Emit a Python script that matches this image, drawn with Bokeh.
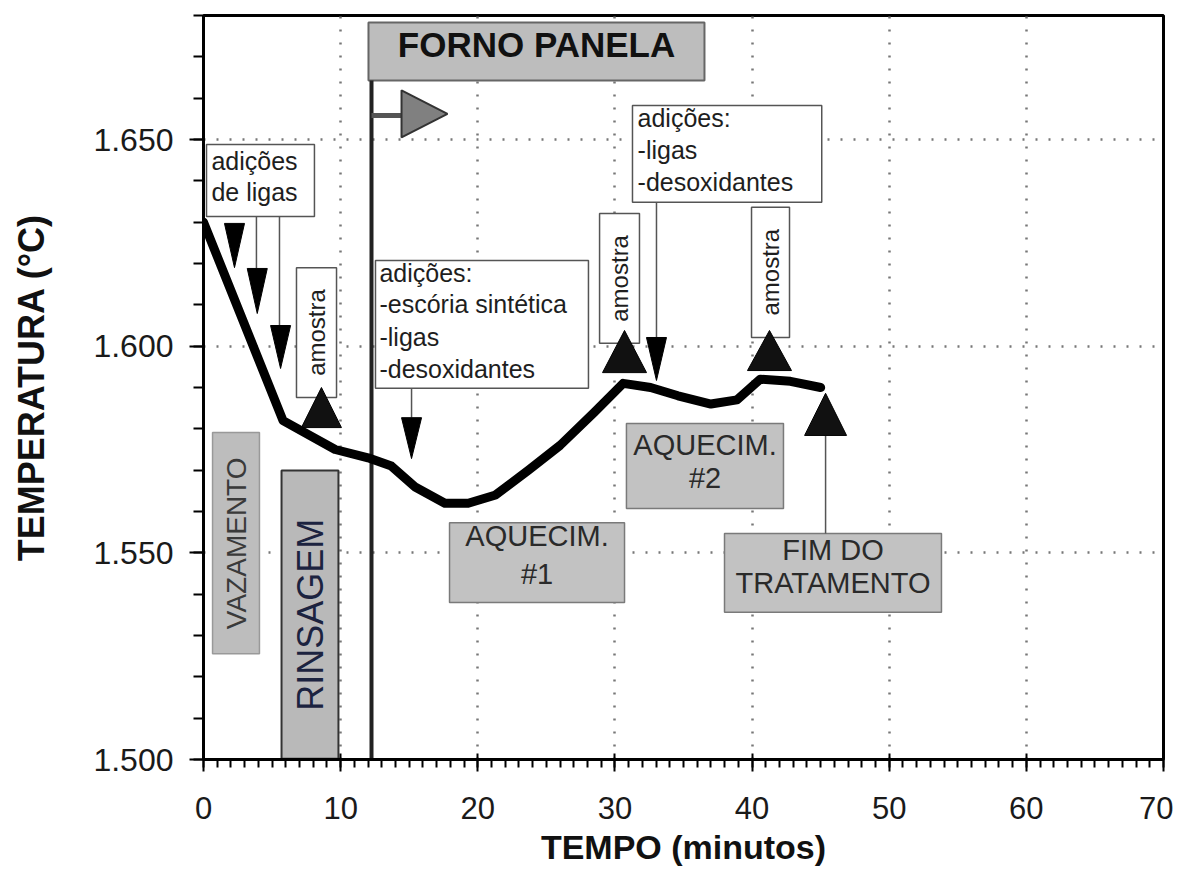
import math
from bokeh.plotting import figure
from bokeh.models import SingleIntervalTicker, CustomJSTickFormatter, Range1d
from bokeh.embed import file_html
from bokeh.resources import INLINE
from bokeh.core.properties import value

# ---------------- data ----------------
tempo_min = [0, 5.8, 9.6, 12.0, 13.7, 15.4, 17.6, 19.3, 21.3, 23.7, 26.0, 28.5,
             30.6, 32.6, 34.6, 37.0, 38.9, 40.6, 42.8, 45.0]
temperatura_c = [1630, 1582, 1575, 1573, 1571, 1566, 1562, 1562, 1564, 1570, 1576, 1584,
                 1591, 1590, 1588, 1586, 1587, 1592, 1591.5, 1590]
x_ticks = [0, 10, 20, 30, 40, 50, 60, 70]
y_ticks = [1500, 1550, 1600, 1650]

FONT = "Liberation Sans"

p = figure(frame_width=960, frame_height=744, output_backend="svg", toolbar_location=None,
           x_range=Range1d(0, 70), y_range=Range1d(1500, 1680),
           min_border_left=203, min_border_top=15, min_border_right=10, min_border_bottom=90,
           background_fill_color="white", border_fill_color="white")

p.outline_line_color = "black"
p.outline_line_width = 3

# axes
p.xaxis.ticker = SingleIntervalTicker(interval=10, num_minor_ticks=10)
p.yaxis.ticker = SingleIntervalTicker(interval=50, num_minor_ticks=5)
p.yaxis.formatter = CustomJSTickFormatter(code="return (tick/1000).toFixed(3);")
for ax in (p.xaxis[0], p.yaxis[0]):
    ax.axis_line_width = 3
    ax.axis_line_color = "black"
    ax.major_tick_line_width = 2
    ax.minor_tick_line_width = 2
    ax.major_tick_line_color = "black"
    ax.minor_tick_line_color = "black"
    ax.major_label_text_font = FONT
    ax.major_label_text_color = "#1a1a1a"
    ax.axis_label_text_font = FONT
    ax.axis_label_text_font_style = "bold"
    ax.axis_label_text_color = "#111111"

p.xaxis.major_tick_in = 6
p.xaxis.major_tick_out = 12
p.xaxis.minor_tick_in = 0
p.xaxis.minor_tick_out = 8
p.xaxis.major_label_text_font_size = "31px"
p.xaxis.major_label_standoff = 25
p.xaxis.axis_label = "TEMPO (minutos)"
p.xaxis.axis_label_text_font_size = "34px"
p.xaxis.axis_label_standoff = 6

p.yaxis.major_tick_in = 0
p.yaxis.major_tick_out = 14
p.yaxis.minor_tick_in = 0
p.yaxis.minor_tick_out = 10
p.yaxis.major_label_text_font_size = "32px"
p.yaxis.major_label_standoff = 16
p.yaxis.axis_label = "TEMPERATURA (°C)"
p.yaxis.axis_label_text_font_size = "36px"
p.yaxis.axis_label_standoff = 38

# grid
for g in (p.xgrid[0], p.ygrid[0]):
    g.grid_line_color = "#777777"
    g.grid_line_dash = "2 11"
    g.grid_line_width = 2.5

# ---------------- annotation helpers ----------------
def box(l, r, b, t, fill, line, lw=1.5):
    p.quad(left=[l], right=[r], bottom=[b], top=[t], fill_color=fill,
           line_color=line, line_width=lw)

def txt(x, y, s, size, align="left", angle=0.0, style="normal", color="#1e1e1e"):
    p.text(x=[x], y=[y], text=[s], angle=angle, text_align=align, text_baseline="middle",
           text_font=value(FONT), text_font_size=size, text_font_style=style,
           text_color=color)

def tri_down(cx, top, bottom, w):
    p.patch([cx - w / 2, cx + w / 2, cx], [top, top, bottom], fill_color="black",
            line_color="black", line_width=1)

def tri_up(cx, apex, base, w):
    p.patch([cx - w / 2, cx + w / 2, cx], [base, base, apex], fill_color="#111111",
            line_color="black", line_width=1)

def vline(x, y0, y1, color="#555555", w=1.5):
    p.segment(x0=[x], y0=[y0], x1=[x], y1=[y1], line_color=color, line_width=w)

GRAY = "#c2c2c2"
GRAY_LINE = "#7a7a7a"
BOX_LINE = "#555555"
ANN = "25px"
GB = "29px"

# Forno panela
box(12.03, 36.53, 1664.3, 1678.3, "#bdbdbd", "#666666", 2)
txt(24.28, 1673.0, "FORNO PANELA", "35px", align="center", style="bold", color="#111111")
vline(12.25, 1500, 1664.3, color="#222222", w=4)
p.segment(x0=[12.25], y0=[1655.8], x1=[14.5], y1=[1655.8], line_color="#555555", line_width=5)
p.patch([14.44, 14.44, 17.79], [1661.9, 1650.5, 1656.2], fill_color="#808080",
        line_color="#333333", line_width=2)

# adições de ligas
box(0.22, 8.09, 1631.4, 1648.8, "white", BOX_LINE)
txt(0.58, 1644.9, "adições", ANN)
txt(0.58, 1637.4, "de ligas", ANN)
tri_down(2.26, 1629.7, 1619.0, 1.46)
vline(3.86, 1631.4, 1618.8)
tri_down(3.92, 1618.8, 1607.9, 1.46)
vline(5.54, 1631.4, 1605.0)
tri_down(5.62, 1605.0, 1594.6, 1.46)

# amostra 1
box(6.78, 9.70, 1587.6, 1619.0, "white", BOX_LINE)
txt(8.24, 1603.3, "amostra", "24px", align="center", angle=math.pi / 2)
tri_up(8.60, 1590.0, 1580.3, 2.92)

# vazamento / rinsagem
box(0.66, 4.08, 1525.6, 1579.1, "#bdbdbd", "#999999", 1.5)
txt(2.37, 1552.3, "VAZAMENTO", "28px", align="center", angle=math.pi / 2, color="#3a3a3a")
box(5.69, 9.84, 1500.2, 1569.9, "#b9b9b9", "#333333", 2)
txt(7.77, 1535.0, "RINSAGEM", "36px", align="center", angle=math.pi / 2, color="#1c2340")

# adições 1
box(12.54, 28.07, 1589.8, 1620.7, "white", BOX_LINE)
for yy, s in zip([1617.6, 1610.1, 1602.1, 1594.4],
                 ["adições:", "-escória sintética", "-ligas", "-desoxidantes"]):
    txt(12.83, yy, s, ANN)
vline(15.17, 1589.8, 1582.7)
tri_down(15.17, 1582.7, 1572.8, 1.46)

# adições 2
box(31.28, 45.08, 1634.8, 1658.2, "white", BOX_LINE)
for yy, s in zip([1655.1, 1647.4, 1639.6], ["adições:", "-ligas", "-desoxidantes"]):
    txt(31.65, yy, s, ANN)
vline(33.03, 1634.8, 1602.1)
tri_down(33.03, 1602.1, 1591.7, 1.46)

# amostra 2, 3
box(28.88, 31.79, 1600.7, 1632.1, "white", BOX_LINE)
txt(30.34, 1616.4, "amostra", "24px", align="center", angle=math.pi / 2)
tri_up(30.70, 1603.8, 1593.6, 3.21)
box(39.96, 42.73, 1602.1, 1633.6, "white", BOX_LINE)
txt(41.35, 1617.9, "amostra", "24px", align="center", angle=math.pi / 2)
tri_up(41.27, 1603.8, 1594.1, 3.21)

# aquecimentos / fim
box(17.94, 30.70, 1538.0, 1557.3, GRAY, GRAY_LINE)
txt(24.32, 1554.0, "AQUECIM.", GB, align="center", color="#2a2a2a")
txt(24.32, 1545.0, "#1", GB, align="center", color="#2a2a2a")
box(30.84, 42.29, 1560.7, 1581.3, GRAY, GRAY_LINE)
txt(36.57, 1576.0, "AQUECIM.", GB, align="center", color="#2a2a2a")
txt(36.57, 1568.0, "#2", GB, align="center", color="#2a2a2a")
box(37.99, 53.81, 1535.6, 1554.7, GRAY, GRAY_LINE)
txt(45.90, 1550.6, "FIM DO", GB, align="center", color="#2a2a2a")
txt(45.90, 1542.6, "TRATAMENTO", GB, align="center", color="#2a2a2a")
vline(45.36, 1578.4, 1554.7, color="#555555", w=1.5)
tri_up(45.36, 1588.6, 1578.4, 3.06)

# main curve
p.line(tempo_min, temperatura_c, line_color="black", line_width=9,
       line_join="round", line_cap="round")

open("out.html", "w").write(file_html(p, INLINE))
